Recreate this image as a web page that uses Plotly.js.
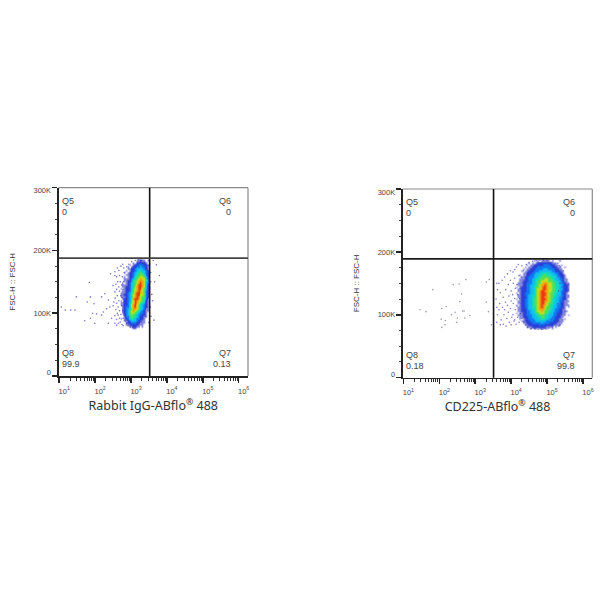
<!DOCTYPE html>
<html>
<head>
<meta charset="utf-8">
<script src="https://cdn.plot.ly/plotly-3.0.1.min.js"></script>
<style>html,body{margin:0;padding:0;background:#fff}#c{width:600px;height:600px}</style>
</head>
<body>
<div id="c"></div>
<script>
// Density levels: 0 = empty, 1..9 = blue to red. Rows run top to bottom.
var densityA = [
"000000000011211010","000000001022222100","000000101223332210","000001012233433210",
"000001122344443210","000010122345544320","000101223455654321","000011223456665321",
"000101223566776421","000111234567877531","000112235678887531","001012345678987431",
"001112345689987421","001122345789987421","010122346789976421","001122346789876321",
"011123456899876321","011223457899776321","011123457898766321","001223458998765311",
"010223467987765211","011223567987654211","011223578976543210","001233578976543210",
"001234568876543110","001234678765432110","001234677654332100","000234666543322100",
"000133566543221100","010123555433221000","000112344432211000","000012233322111000",
"000011222221110000","000000112211010000","000000001100000000"];
var densityB = [
"0000000000010101111101000100000","0000000010101222222221110000000","0000000101122222333322211010000",
"0000001011222333333332221100100","0000010112223333444333322110000","0000101122233344444443322211000",
"0000011222334445555544433221000","0001011223344455665554443222100","0000112233344556666655544322100",
"0001112233445566677665544332110","0001122233445667777666554432110","0011122333445667888776655433211",
"0011122334455678898776655443221","0101222334456678998776655433221","0011222334456778998776655443221",
"0011222334456789988776655433221","0101223334456789998766554432210","0011223344556789998766554433211",
"0011222344556789988766544432211","0101223344566789998765544332210","0011223344566789988765544332111",
"0011223344566789987665544322110","0101223344566789887655443322111","0011223344556789876655443322101",
"0011222344556788876654433221100","0011222334456778766554433221110","0101122334455677766544332221100",
"0011122333445566655444332211101","0001122233444556655443322211000","0001012233344455554433322110100",
"0000112223334444443333222111000","0000011222333334333322221110000","0000001122222232322222111100000",
"0000000111222222221111010000000","0000000001011011101001000000000"];
var gridA = {xStart: 2.66, xStep: 0.05, yStart: 184.1, yStep: -3.175};
var gridB = {xStart: 4.09, xStep: 0.05, yStart: 186.1, yStep: -3.19};

// Scattered events: log10 of intensity, FSC-H in thousands
var outA_x = [1.06,1.17,1.32,1.44,1.48,1.84,1.78,1.87,1.97,1.71,1.87,1.99,1.93,2.04,2.18,2.23,2.27,2.18,2.32,2.43,2.55,2.37,2.41,2.55,2.5,2.55,2.46,2.55,2.37,2.6,2.64,3.62,3.71,3.79,3.64,3.55,3.66,
2.62,2.66,2.6,2.68,2.63,2.58,2.66,2.6,2.68,2.62,2.56,2.66,2.6,2.52,2.64,2.58,2.68,2.5,2.62,2.55,2.68,2.6,2.7,2.65,2.72,2.7,2.72,2.74,2.72,2.75,2.77,2.78,3.5,3.55,3.52,3.58,3.54,3.56,3.5,3.6,
2.8,2.82,2.76,2.8,2.74,2.78,2.82,2.75,2.8,2.84,2.77,2.82,2.78,2.85,2.88,2.92,2.98,3.05,3.12,3.2,3.28,3.4,3.45,3.47,3.48,3.46,3.44,3.38,3.3,3.22,3.12,3.02,2.94,2.88];
var outA_y = [110,105,105,105,126,149,118,126,115,88,92,84,100,99,97,102,131,126,107,163,166,121,110,160,144,134,92,84,84,81,97,184,177,160,89,150,150,
172,168,158,160,150,146,142,138,135,128,124,120,116,118,110,106,104,112,100,96,92,90,86,84,175,150,128,112,98,82,178,80,176,165,140,130,110,95,85,120,
172,165,158,150,145,138,130,125,118,110,104,98,92,88,84,80,78,78,79,82,86,95,110,125,140,155,170,180,184,185,184,182,178,174];
var outB_x = [3.6,3.62,3.58,3.6,3.62,3.6,3.66,3.7,3.68,3.66,3.72,3.7,3.75,3.78,3.76,3.8,3.78,3.82,3.85,3.84,3.82,3.88,3.86,3.9,3.92,3.94,3.9,3.92,3.95,3.98,3.98,4.0,4.0,3.98,4.02,4.0,4.05,4.06,4.04,4.06,4.05,4.08,4.1,4.1,4.12,4.1,4.12,4.1,4.14,4.15,4.16,4.18,4.16,4.18,4.2,4.22,4.22,
5.45,5.42,5.5,5.55,5.48,5.42,5.46,5.4,5.44,5.36,5.38,5.3,5.52,5.35,5.33,5.5,5.6,5.58,
4.3,4.34,4.28,4.32,4.26,4.3,4.24,4.28,4.32,4.26,4.3,4.35,4.4,4.46,4.55,4.65,4.75,4.85,4.95,5.05,5.15,5.22,5.3,5.28,5.34,5.3,5.36,5.32,5.36,5.3,5.26,5.2,5.1,5.0,4.9,4.8,4.7,4.6,4.5,4.42];
var outB_y = [150,140,125,112,100,88,150,135,118,108,92,84,155,128,112,100,85,160,140,120,108,94,82,165,148,130,115,104,88,170,155,138,122,110,96,84,168,150,132,118,100,90,172,158,142,126,108,92,85,176,148,132,114,96,180,162,88,
170,155,150,145,135,120,110,100,92,84,176,182,125,178,82,105,148,140,
178,170,160,150,142,134,126,118,110,102,94,88,84,80,78,78,77,77,78,79,81,84,90,100,108,118,128,138,150,160,170,178,183,186,187,187,186,185,183,180];
var sparseB_x = [1.46,1.63,1.82,2.07,2.19,2.05,2.17,2.07,2.16,2.34,2.39,2.55,2.74,2.62,2.57,2.44,2.5,2.48,2.65,2.69,2.71,2.85,3.31,3.31,3.39,3.37,3.45];
var sparseB_y = [108,105,140,110,113,93,91,80,84,100,148,149,156,133,121,104,95,88,106,106,95,99,120,152,156,105,84];

var quadrantsA = {Q5:"0", Q6:"0", Q8:"99.9", Q7:"0.13"};
var quadrantsB = {Q5:"0", Q6:"0", Q8:"0.18", Q7:"99.8"};
var regMark = '<sup style="font-size:8px">®</sup>';
var xTitles = ["Rabbit IgG-ABflo"+regMark+" 488", "CD225-ABflo"+regMark+" 488"];
var yTitle = "FSC-H :: FSC-H";
var xTickVals = [1e1,1e2,1e3,1e4,1e5,1e6];
var xTickText = ["10<sup>1</sup>","10<sup>2</sup>","10<sup>3</sup>","10<sup>4</sup>","10<sup>5</sup>","10<sup>6</sup>"];
var yTickVals = [0,100000,200000,300000];
var yLabelSpots = [5000,100000,200000,295000];
var yTickText = ["0","100K","200K","300K"];
var gateA = {x: 3.52, y: 187800};
var gateB = {x: 3.51, y: 188800};

var colorscale = [
 [0,"rgba(255,255,255,0)"],[0.05,"rgba(120,120,215,0.25)"],[0.111,"rgba(70,70,200,0.65)"],[0.222,"#2a3ed8"],[0.333,"#1078f0"],
 [0.444,"#10bcf0"],[0.556,"#14dcb8"],[0.667,"#50e058"],[0.778,"#c0e020"],[0.889,"#f0a010"],[1,"#e83c14"]];

function pow10(a){return a.map(function(v){return Math.pow(10,v);});}
function kilo(a){return a.map(function(v){return v*1000;});}
function heat(rows,g,xa,ya){
  var z = rows.map(function(r){return r.split("").map(Number);});
  var xs = z[0].map(function(_,i){return Math.pow(10,g.xStart+i*g.xStep);});
  var ys = z.map(function(_,i){return (g.yStart+i*g.yStep)*1000;});
  return {type:"heatmap",x:xs,y:ys,z:z,xaxis:xa,yaxis:ya,zmin:0,zmax:9,zsmooth:"best",colorscale:colorscale,showscale:false,hoverinfo:"skip"};
}
function dots(x,y,color,xa,ya){
  return {type:"scatter",mode:"markers",x:pow10(x),y:kilo(y),xaxis:xa,yaxis:ya,hoverinfo:"skip",
    marker:{size:1.6,color:color,line:{width:0}}};
}
function labelCarrier(xa,ya){
  return {type:"scatter",mode:"markers",x:[],y:[],xaxis:xa,yaxis:ya,hoverinfo:"skip"};
}
var data = [
  heat(densityA,gridA,"x","y"),
  dots(outA_x,outA_y,"rgba(70,70,180,0.75)","x","y"),
  heat(densityB,gridB,"x2","y2"),
  dots(outB_x,outB_y,"rgba(70,70,180,0.7)","x2","y2"),
  dots(sparseB_x,sparseB_y,"rgba(120,120,150,0.75)","x2","y2"),
  labelCarrier("x","y3"),
  labelCarrier("x2","y4")
];

var tickFont = {family:"Liberation Sans, Arial, sans-serif",size:7.5,color:"#444"};
function xAxis(dom,title,anchor){
  return {type:"log",range:[0.98,6.26],domain:dom,anchor:anchor,tickmode:"array",tickvals:xTickVals,ticktext:xTickText,
    ticks:"outside",ticklen:5,tickwidth:1.5,tickcolor:"#222",tickfont:tickFont,ticklabelshift:5,ticklabelstandoff:2,
    minor:{ticks:"outside",ticklen:3,tickwidth:1,tickcolor:"#333",dtick:"D1",showgrid:false},
    showline:true,linecolor:"#222",linewidth:1.5,showgrid:false,zeroline:false,
    title:{text:title,font:{family:"Noto Sans, Open Sans, sans-serif",size:12.5,color:"#333"},standoff:5}};
}
function yAxis(dom,anchor){
  return {range:[0,300000],domain:dom,anchor:anchor,tickmode:"array",tickvals:yTickVals,showticklabels:false,
    ticks:"outside",ticklen:5,tickwidth:1.5,tickcolor:"#222",
    minor:{ticks:"outside",ticklen:2,tickwidth:1,tickcolor:"#444",dtick:25000,showgrid:false},
    showline:true,linecolor:"#222",linewidth:1.5,showgrid:false,zeroline:false};
}
function yLabelAxis(dom,anchor,over){
  return {range:[0,300000],domain:dom,anchor:anchor,overlaying:over,tickmode:"array",tickvals:yLabelSpots,ticktext:yTickText,
    ticks:"outside",ticklen:5,tickcolor:"rgba(0,0,0,0)",tickfont:tickFont,showline:false,showgrid:false,zeroline:false,
    title:{text:yTitle,font:{family:"Liberation Sans, Arial, sans-serif",size:8,color:"#333"},standoff:16}};
}
function frame(xa,ya,g,hColor){
  return [
    {type:"line",xref:xa+" domain",yref:ya+" domain",x0:0,x1:1,y0:1,y1:1,line:{color:"#8a8a8a",width:1.2}},
    {type:"line",xref:xa+" domain",yref:ya+" domain",x0:1,x1:1,y0:0,y1:1,line:{color:"#8a8a8a",width:1.2}},
    {type:"line",xref:xa,yref:ya+" domain",x0:Math.pow(10,g.x),x1:Math.pow(10,g.x),y0:0,y1:1,line:{color:"#111",width:1.6}},
    {type:"line",xref:xa+" domain",yref:ya,x0:0,x1:1,y0:g.y,y1:g.y,line:{color:hColor,width:1.7}}
  ];
}
function labels(xa,ya,q){
  var f={family:"Liberation Sans, Arial, sans-serif",size:9,color:"#444"};
  function a(t,x,xan,yfrac){return {text:t,xref:xa+" domain",yref:ya+" domain",x:x,y:yfrac,xanchor:xan,yanchor:"middle",showarrow:false,font:f,borderpad:0};}
  return [
    a("Q5",0.013,"left",0.932),a(q.Q5,0.013,"left",0.872),
    a("Q6",0.915,"right",0.932),a(q.Q6,0.915,"right",0.872),
    a("Q8",0.013,"left",0.122),a(q.Q8,0.013,"left",0.062),
    a("Q7",0.915,"right",0.122),a(q.Q7,0.915,"right",0.062)
  ];
}
var domA = [1-376/600,1-187.7/600], domB = [1-377.7/600,1-189/600];
var layout = {
  width:600,height:600,margin:{l:0,r:0,t:0,b:0},paper_bgcolor:"#fff",plot_bgcolor:"#fff",showlegend:false,
  xaxis:xAxis([58.5/600,248/600],xTitles[0],"y"),
  yaxis:yAxis(domA,"x"),
  yaxis3:yLabelAxis(domA,"x","y"),
  xaxis2:xAxis([402.7/600,592.3/600],xTitles[1],"y2"),
  yaxis2:yAxis(domB,"x2"),
  yaxis4:yLabelAxis(domB,"x2","y2"),
  shapes:frame("x","y",gateA,"#444").concat(frame("x2","y2",gateB,"#1a1a1a")),
  annotations:labels("x","y",quadrantsA).concat(labels("x2","y2",quadrantsB))
};
Plotly.newPlot("c",data,layout,{displayModeBar:false,staticPlot:true});
</script>
</body>
</html>
